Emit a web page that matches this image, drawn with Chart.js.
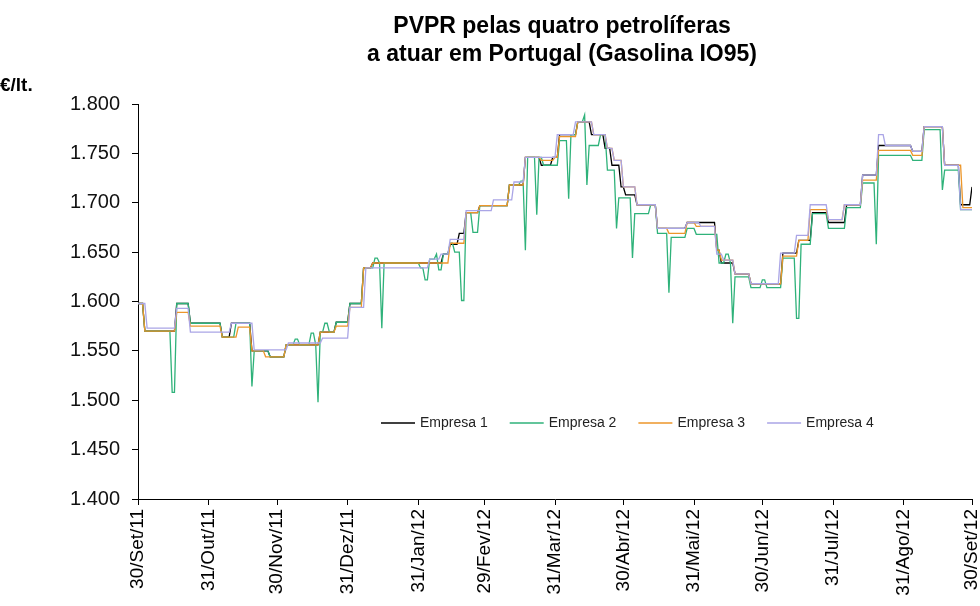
<!DOCTYPE html>
<html>
<head>
<meta charset="utf-8">
<script src="https://cdn.jsdelivr.net/npm/chart.js@4.4.1/dist/chart.umd.min.js"></script>
<style>
  html, body { margin: 0; padding: 0; background: #fff; }
</style>
</head>
<body>
<canvas id="chart" width="980" height="606"></canvas>
<script>
const titleLines = ['PVPR pelas quatro petrolíferas', 'a atuar em Portugal (Gasolina IO95)'];
const unitLabel = '€/lt.';

// days counted from 30/Set/11
const tickDays = [0, 31, 61, 92, 123, 152, 183, 213, 244, 274, 305, 336, 366];
const tickLabels = ['30/Set/11', '31/Out/11', '30/Nov/11', '31/Dez/11', '31/Jan/12', '29/Fev/12',
    '31/Mar/12', '30/Abr/12', '31/Mai/12', '30/Jun/12', '31/Jul/12', '31/Ago/12', '30/Set/12'];

const seriesNames = ['Empresa 1', 'Empresa 2', 'Empresa 3', 'Empresa 4'];
const seriesColors = ['#000000', '#2fb27a', '#ec962a', '#aaa5e6'];

// price changes: [day, price from that day on]
const empresa1 = [[0,1.598],[3,1.570],[17,1.598],[23,1.578],[37,1.564],[41,1.578],[50,1.550],[58,1.544],
    [65,1.556],[80,1.569],[87,1.579],[93,1.598],[99,1.634],[103,1.639],[134,1.648],[137,1.658],[141,1.669],
    [144,1.690],[150,1.697],[163,1.718],[170,1.746],[177,1.738],[182,1.746],[185,1.769],[193,1.782],
    [199,1.769],[205,1.755],[208,1.738],[212,1.716],[214,1.708],[219,1.698],[228,1.674],[241,1.680],
    [254,1.652],[256,1.639],[262,1.628],[269,1.618],[283,1.649],[290,1.662],[296,1.690],[303,1.680],
    [311,1.698],[318,1.728],[325,1.758],[340,1.752],[345,1.777],[354,1.738],[361,1.698],[365,1.698],[366,1.716]];

const empresa2 = [[0,1.598],[3,1.570],[15,1.508],[17,1.598],[23,1.578],[37,1.564],[43,1.578],[50,1.514],
    [51,1.550],[58,1.544],[65,1.556],[69,1.562],[71,1.556],[76,1.568],[78,1.556],[79,1.498],[80,1.569],
    [82,1.578],[84,1.569],[87,1.579],[93,1.598],[99,1.634],[104,1.644],[106,1.639],[107,1.573],[108,1.639],
    [124,1.634],[126,1.622],[128,1.643],[131,1.648],[132,1.632],[134,1.648],[137,1.659],[139,1.650],
    [142,1.601],[144,1.690],[147,1.670],[150,1.697],[163,1.718],[168,1.722],[170,1.652],[171,1.746],
    [175,1.688],[176,1.746],[178,1.738],[185,1.763],[189,1.704],[190,1.769],[193,1.782],[196,1.789],
    [197,1.718],[198,1.758],[202,1.758],[203,1.769],[206,1.733],[209,1.733],[210,1.674],[211,1.705],
    [216,1.705],[217,1.644],[218,1.689],[225,1.698],[228,1.669],[233,1.609],[234,1.665],[241,1.674],
    [245,1.668],[255,1.639],[258,1.648],[260,1.639],[261,1.578],[262,1.625],[269,1.614],[274,1.622],
    [276,1.614],[283,1.644],[289,1.583],[291,1.658],[296,1.689],[303,1.674],[311,1.695],[318,1.720],
    [324,1.658],[325,1.748],[340,1.743],[345,1.774],[353,1.713],[354,1.733],[361,1.693],[366,1.693]];

const empresa3 = [[0,1.598],[3,1.570],[17,1.589],[23,1.575],[37,1.564],[44,1.574],[50,1.550],[56,1.544],
    [65,1.556],[80,1.569],[87,1.575],[93,1.594],[99,1.634],[103,1.639],[137,1.659],[144,1.690],[150,1.697],
    [163,1.718],[170,1.746],[177,1.743],[183,1.746],[185,1.767],[193,1.782],[200,1.769],[206,1.755],
    [209,1.743],[213,1.716],[219,1.698],[228,1.674],[233,1.669],[241,1.680],[245,1.676],[254,1.652],
    [256,1.642],[262,1.628],[269,1.618],[283,1.646],[290,1.662],[295,1.693],[303,1.683],[310,1.698],
    [318,1.723],[325,1.753],[340,1.748],[345,1.777],[354,1.738],[362,1.695],[366,1.695]];

const empresa4 = [[0,1.598],[4,1.573],[17,1.593],[23,1.569],[41,1.578],[51,1.551],[66,1.558],[81,1.563],
    [93,1.594],[100,1.634],[128,1.643],[133,1.648],[137,1.663],[144,1.692],[156,1.703],[165,1.721],
    [170,1.746],[184,1.769],[192,1.782],[200,1.769],[206,1.755],[209,1.743],[213,1.716],[219,1.698],
    [228,1.674],[241,1.680],[247,1.676],[254,1.648],[257,1.642],[262,1.628],[269,1.618],[282,1.649],
    [289,1.667],[295,1.698],[303,1.683],[310,1.698],[318,1.728],[325,1.769],[328,1.758],[340,1.752],
    [345,1.777],[354,1.738],[361,1.693],[366,1.693]];

const seriesData = [empresa1, empresa2, empresa3, empresa4];

// each price holds until the next change, which takes one day
function toPoints(changes) {
    const pts = [{ x: changes[0][0], y: changes[0][1] }];
    for (let i = 1; i < changes.length; i++) {
        const [day, price] = changes[i];
        pts.push({ x: day - 1, y: changes[i - 1][1] });
        pts.push({ x: day, y: price });
    }
    return pts;
}

const FONT = '"Liberation Sans", Arial, sans-serif';

const annotations = {
    id: 'annotations',
    afterDraw(chart) {
        const { ctx, chartArea } = chart;
        ctx.save();
        ctx.fillStyle = '#000';
        ctx.textBaseline = 'middle';
        ctx.textAlign = 'center';
        ctx.font = 'bold 23px ' + FONT;
        const cx = (chartArea.left + chartArea.right) / 2 + 7;
        titleLines.forEach((t, i) => ctx.fillText(t, cx, 27 + i * 28));

        ctx.textAlign = 'left';
        ctx.font = 'bold 19px ' + FONT;
        ctx.fillText(unitLabel, 0, 86);

        ctx.font = '14px ' + FONT;
        ctx.fillStyle = '#222';
        let x = 381;
        const y = 423;
        chart.data.datasets.forEach(ds => {
            ctx.strokeStyle = ds.borderColor;
            ctx.lineWidth = 1.3;
            ctx.beginPath();
            ctx.moveTo(x, y);
            ctx.lineTo(x + 34, y);
            ctx.stroke();
            ctx.fillText(ds.label, x + 39, y);
            x += 39 + ctx.measureText(ds.label).width + 22;
        });
        ctx.restore();
    }
};

new Chart(document.getElementById('chart'), {
    type: 'line',
    data: {
        datasets: seriesNames.map((name, i) => ({
            label: name,
            data: toPoints(seriesData[i]),
            borderColor: seriesColors[i],
            backgroundColor: seriesColors[i],
            borderWidth: 1.3,
            pointRadius: 0,
            tension: 0,
            order: 4 - i
        }))
    },
    options: {
        responsive: false,
        animation: false,
        layout: { padding: { top: 104, right: 8, left: 0, bottom: 0 } },
        plugins: {
            legend: { display: false },
            title: { display: false },
            tooltip: { enabled: false }
        },
        scales: {
            x: {
                type: 'linear',
                min: 0,
                max: 366,
                afterBuildTicks: scale => { scale.ticks = tickDays.map(v => ({ value: v })); },
                afterFit: scale => {
                    scale.height = 107;
                    scale.paddingLeft = 0;
                    scale.paddingRight = 0;
                },
                ticks: {
                    autoSkip: false,
                    minRotation: 90,
                    maxRotation: 90,
                    color: '#000',
                    font: { family: FONT, size: 19 },
                    padding: 4,
                    callback: (v, i) => tickLabels[i]
                },
                grid: { drawOnChartArea: false, drawTicks: true, tickLength: 6, color: '#000' },
                border: { display: true, color: '#000', width: 1 }
            },
            y: {
                min: 1.4,
                max: 1.8,
                afterFit: scale => { scale.width = 138; },
                ticks: {
                    stepSize: 0.05,
                    color: '#111',
                    font: { family: FONT, size: 20 },
                    padding: 12,
                    callback: v => v.toFixed(3)
                },
                grid: { drawOnChartArea: false, drawTicks: true, tickLength: 6, color: '#000' },
                border: { display: true, color: '#000', width: 1 }
            }
        }
    },
    plugins: [annotations]
});
</script>
</body>
</html>
